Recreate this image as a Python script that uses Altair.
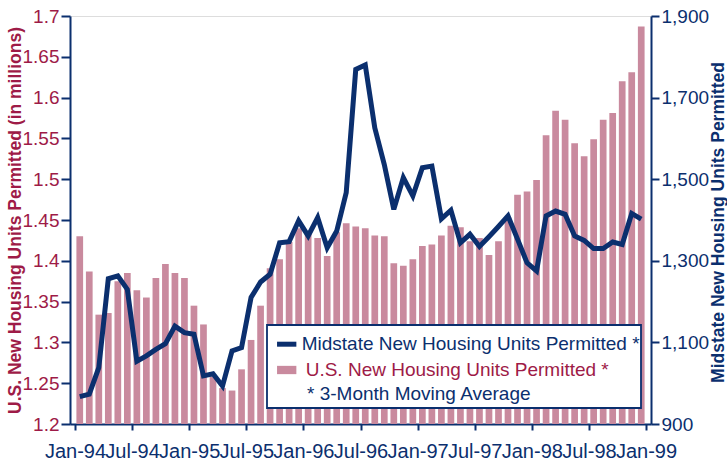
import altair as alt
import pandas as pd

# ---------------- data ----------------
MONTHS = pd.date_range("1994-01-01", periods=60, freq="MS").strftime("%b-%y").tolist()

US_PERMITS = [1.430, 1.387, 1.334, 1.336, 1.375, 1.385, 1.364, 1.355, 1.379, 1.396,
              1.385, 1.379, 1.345, 1.322, 1.258, 1.244, 1.241, 1.267, 1.303, 1.345,
              1.391, 1.402, 1.423, 1.440, 1.434, 1.428, 1.406, 1.435, 1.446, 1.442,
              1.440, 1.431, 1.430, 1.397, 1.394, 1.402, 1.418, 1.420, 1.431, 1.443,
              1.441, 1.424, 1.428, 1.407, 1.424, 1.453, 1.481, 1.485, 1.499, 1.554,
              1.584, 1.573, 1.544, 1.528, 1.549, 1.573, 1.581, 1.620, 1.631, 1.687]

MIDSTATE_PERMITS = [967, 973, 1038, 1256, 1263, 1230, 1054, 1067, 1083, 1097,
                    1140, 1124, 1120, 1018, 1023, 993, 1079, 1087, 1210, 1248,
                    1267, 1344, 1347, 1398, 1361, 1406, 1332, 1373, 1467, 1769,
                    1780, 1626, 1536, 1426, 1504, 1459, 1528, 1532, 1403, 1424,
                    1344, 1365, 1335, 1359, 1384, 1410, 1353, 1295, 1275, 1410,
                    1422, 1414, 1361, 1350, 1330, 1330, 1346, 1340, 1416, 1402]

TICK_LABELS = ["Jan-94", "Jul-94", "Jan-95", "Jul-95", "Jan-96", "Jul-96",
               "Jan-97", "Jul-97", "Jan-98", "Jul-98", "Jan-99"]
LEFT_TICKS = [1.2, 1.25, 1.3, 1.35, 1.4, 1.45, 1.5, 1.55, 1.6, 1.65, 1.7]
RIGHT_TICKS = [900, 1100, 1300, 1500, 1700, 1900]

MID_LABEL = "Midstate New Housing Units Permitted *"
US_LABEL = "U.S. New Housing Units Permitted *"
NOTE = "* 3-Month Moving Average"
LEFT_TITLE = "U.S. New Housing Units Permitted (in millions)"
RIGHT_TITLE = "Midstate New Housing Units Permitted"

# ---------------- style ----------------
NAVY = "#0B2F6E"
CRIMSON = "#9E1B47"
PINK = "#C98A9E"
FONT = "Liberation Sans"

df = pd.DataFrame({
    "month": MONTHS,
    "pos": [i + 0.5 for i in range(len(MONTHS))],
    "us": US_PERMITS,
    "mid": MIDSTATE_PERMITS,
    "us_series": US_LABEL,
    "mid_series": MID_LABEL,
})

label_expr = "[" + ",".join(f"'{t}'" for t in TICK_LABELS) + "][round(datum.value/6)]"

x_enc = alt.X(
    "pos:Q",
    scale=alt.Scale(domain=[0, 60], nice=False, zero=False),
    axis=alt.Axis(values=list(range(0, 61, 6)), labelExpr=label_expr, title=None,
                  grid=False, labelFontSize=20, labelColor=NAVY, tickColor=NAVY,
                  domainColor=NAVY, domainWidth=2, tickWidth=2, tickSize=6,
                  labelPadding=11, labelOverlap=False, labelFlush=False),
)

bars = alt.Chart(df).mark_bar(size=6.7).encode(
    x=x_enc,
    y=alt.Y("us:Q",
            scale=alt.Scale(domain=[1.2, 1.7], nice=False, zero=False),
            axis=alt.Axis(values=LEFT_TICKS, format=".2~f", grid=False,
                          labelFontSize=19, labelColor=CRIMSON, tickColor=NAVY,
                          domainColor=NAVY, domainWidth=2, tickWidth=2, tickSize=9,
                          labelPadding=2,
                          title=LEFT_TITLE, titleColor=CRIMSON, titleFontSize=17.5,
                          titleFontWeight="bold", titleAngle=-90, titleAlign="center",
                          titleBaseline="alphabetic", titleX=-50, titleY=204)),
    y2=alt.datum(1.2),
    fill=alt.Fill("us_series:N",
                  scale=alt.Scale(domain=[US_LABEL], range=[PINK]),
                  legend=alt.Legend(orient="none", legendX=206.7, legendY=344,
                                    title=None, padding=0,
                                    symbolType="M-1,-0.43L1,-0.43L1,0.43L-1,0.43Z",
                                    symbolSize=373, symbolStrokeWidth=0,
                                    labelFont=FONT, labelFontSize=19,
                                    labelColor=CRIMSON, labelOffset=9,
                                    labelLimit=0)),
)

line = alt.Chart(df).mark_line(strokeWidth=5, strokeJoin="miter").encode(
    x=x_enc,
    y=alt.Y("mid:Q",
            scale=alt.Scale(domain=[900, 1900], nice=False, zero=False),
            axis=alt.Axis(orient="right", values=RIGHT_TICKS, format=",d", grid=False,
                          labelFontSize=19, labelColor=NAVY, tickColor=NAVY,
                          domainColor=NAVY, domainWidth=2, tickWidth=2, tickSize=8,
                          labelPadding=2,
                          title=RIGHT_TITLE, titleColor=NAVY, titleFontSize=17.5,
                          titleFontWeight="bold", titleAngle=-90, titleAlign="center",
                          titleBaseline="alphabetic", titleX=72, titleY=206)),
    stroke=alt.Stroke("mid_series:N",
                      scale=alt.Scale(domain=[MID_LABEL], range=[NAVY]),
                      legend=alt.Legend(orient="none", legendX=204.2, legendY=315.7,
                                        title=None, padding=0,
                                        symbolType="stroke", symbolSize=373,
                                        symbolStrokeWidth=5,
                                        labelFont=FONT, labelFontSize=19,
                                        labelColor=NAVY, labelOffset=2.5,
                                        labelLimit=0)),
)

note_df = pd.DataFrame({"note": [NOTE]})
box = alt.Chart(note_df).mark_rect(fill="white", stroke=NAVY, strokeWidth=1.8).encode(
    x=alt.value(197), x2=alt.value(571), y=alt.value(309), y2=alt.value(392))
note = alt.Chart(note_df).mark_text(align="left", baseline="middle", font=FONT,
                                    fontSize=19, color=NAVY).encode(
    x=alt.value(237), y=alt.value(378), text="note:N")

chart = alt.layer(bars, line, box, note).resolve_scale(
    y="independent", fill="independent", stroke="independent"
).properties(
    width=581, height=408,
    autosize=alt.AutoSizeParams(type="none"),
    padding={"left": 70, "top": 16, "right": 76, "bottom": 44},
).configure_view(
    stroke=NAVY, strokeWidth=1.5
).configure_axis(
    labelFont=FONT, titleFont=FONT
).configure(background="white")

chart.save("out.html", embed_options={"renderer": "svg", "actions": False})
